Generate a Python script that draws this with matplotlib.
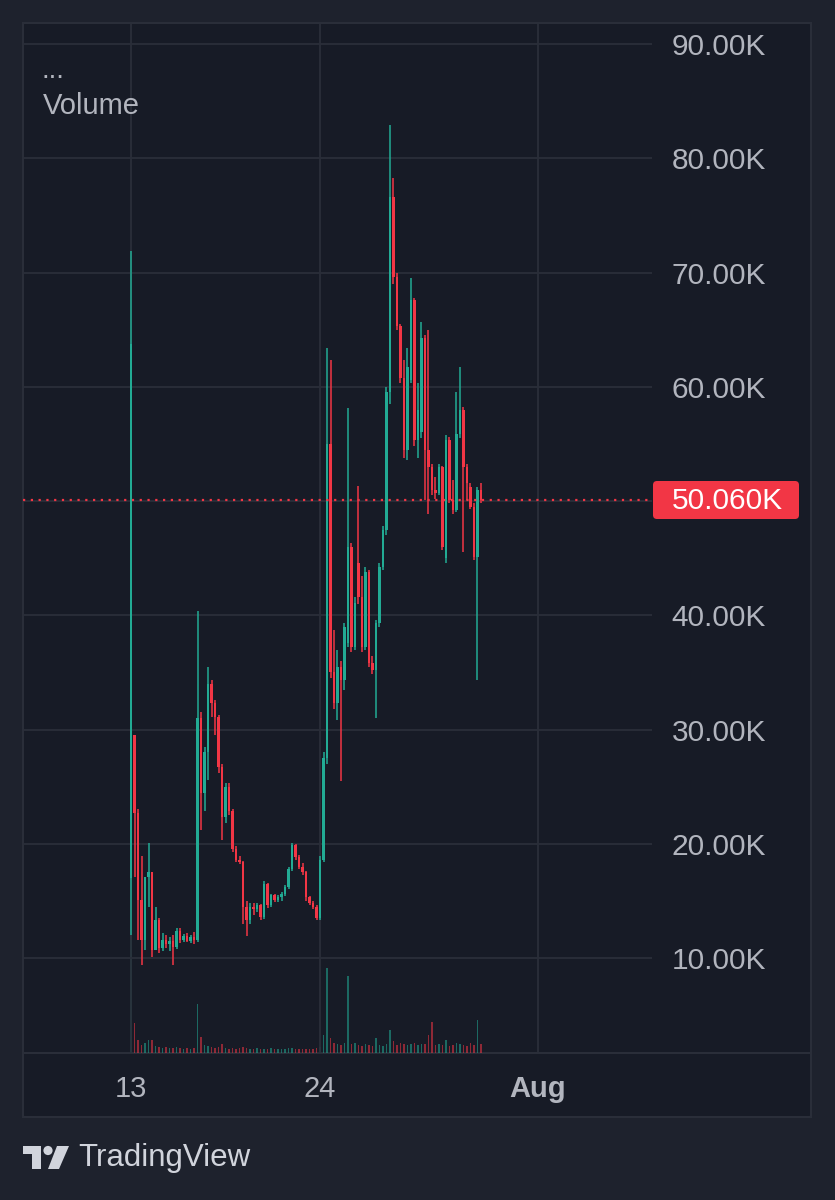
import numpy as np
import matplotlib
matplotlib.use("Agg")
import matplotlib.pyplot as plt
from matplotlib.patches import Rectangle, FancyBboxPatch, Circle, Polygon

# ---------------- data (values in thousands) ----------------
opens = [17.0, 29.5, 22.7, 15.1, 11.6, 17.1, 17.5, 10.7, 13.3, 10.9,
         11.6, 11.2, 11.5, 11.0, 12.4, 11.6, 11.9, 11.5, 11.8, 11.6,
         31.0, 24.4, 28.0, 34.0, 32.3, 31.1, 26.7, 22.3, 25.0, 22.9,
         19.5, 18.6, 18.4, 14.5, 13.3, 14.5, 14.3, 14.6, 13.6, 16.5,
         14.6, 15.5, 15.1, 15.3, 15.6, 16.2, 17.8, 19.9, 18.8, 18.0,
         17.5, 15.3, 14.8, 14.5, 13.5, 18.6, 27.5, 55.0, 35.0, 32.3,
         35.5, 34.3, 37.6, 46.0, 37.2, 44.6, 41.6, 37.2, 43.8, 35.8,
         35.2, 39.3, 44.2, 47.5, 59.5, 76.6, 69.6, 65.3, 60.8, 54.5,
         60.6, 67.6, 55.3, 56.0, 64.3, 54.5, 53.0, 51.0, 50.7, 53.0,
         45.0, 55.3, 50.1, 49.2, 55.9, 58.0, 53.0, 51.2, 49.5, 45.1,
         51.0]
highs = [71.9, 29.5, 23.0, 18.9, 17.1, 20.1, 17.5, 14.5, 13.5, 12.2,
         12.0, 11.8, 12.0, 12.6, 12.6, 12.1, 12.2, 12.0, 12.3, 40.4,
         31.5, 28.5, 35.5, 34.3, 32.6, 31.3, 27.0, 25.3, 25.3, 23.0,
         19.8, 18.9, 18.5, 15.0, 14.8, 14.8, 14.8, 14.7, 16.7, 16.6,
         15.6, 15.6, 15.5, 15.8, 16.4, 18.0, 20.1, 20.0, 19.0, 18.3,
         17.6, 15.4, 15.0, 14.6, 18.9, 28.0, 63.4, 62.3, 38.7, 37.0,
         36.0, 39.3, 58.1, 46.3, 41.6, 51.3, 43.4, 44.2, 44.0, 36.4,
         39.6, 44.6, 47.8, 60.0, 82.9, 78.3, 70.0, 65.5, 62.3, 63.4,
         69.5, 67.8, 60.3, 65.7, 64.5, 65.0, 53.2, 52.1, 53.2, 53.1,
         55.8, 55.6, 51.8, 59.5, 61.7, 58.2, 53.2, 51.6, 49.8, 51.2,
         51.6]
lows = [12.0, 17.1, 11.6, 9.4, 10.7, 14.5, 10.1, 10.7, 10.4, 10.6,
        10.9, 10.6, 9.4, 10.8, 11.3, 11.4, 11.4, 11.3, 11.2, 11.4,
        21.2, 22.9, 25.6, 31.1, 29.5, 26.2, 20.3, 21.8, 22.5, 19.3,
        18.4, 18.2, 13.0, 11.9, 13.0, 13.8, 14.0, 13.3, 13.4, 14.4,
        14.5, 14.9, 14.9, 15.0, 15.4, 16.0, 17.6, 18.6, 17.8, 17.3,
        15.0, 14.6, 14.3, 13.3, 13.3, 18.4, 27.0, 34.5, 31.8, 30.8,
        25.5, 33.5, 37.2, 36.8, 37.0, 41.0, 36.8, 37.0, 35.5, 34.9,
        31.0, 39.0, 44.0, 47.0, 58.5, 69.0, 65.0, 60.3, 53.8, 53.6,
        60.3, 54.8, 53.8, 55.5, 50.1, 48.9, 50.5, 50.2, 50.5, 45.7,
        44.6, 49.8, 48.9, 49.0, 55.5, 45.5, 50.1, 49.3, 44.8, 34.3,
        49.8]
closes = [63.7, 22.7, 15.1, 11.6, 17.1, 17.5, 10.7, 13.3, 10.9, 11.6,
          11.2, 11.5, 11.0, 12.4, 11.6, 11.9, 11.5, 11.8, 11.6, 31.0,
          24.4, 28.0, 34.0, 32.3, 31.1, 26.7, 22.3, 25.0, 22.9, 19.5,
          18.6, 18.4, 14.5, 13.3, 14.5, 14.3, 14.6, 13.6, 16.5, 14.6,
          15.5, 15.1, 15.3, 15.6, 16.2, 17.8, 19.9, 18.8, 18.0, 17.5,
          15.3, 14.8, 14.5, 13.5, 18.6, 27.5, 55.0, 35.0, 32.3, 35.5,
          34.3, 39.0, 46.0, 37.2, 41.1, 41.6, 37.2, 43.8, 35.8, 35.2,
          39.3, 44.2, 47.5, 59.5, 76.6, 69.6, 65.3, 60.8, 54.5, 61.7,
          67.6, 55.3, 58.0, 64.3, 54.5, 53.0, 51.0, 50.7, 53.0, 46.0,
          55.3, 50.1, 49.2, 55.9, 58.0, 53.0, 51.6, 49.5, 45.1, 51.0,
          50.06]
volumes = [18.0, 3.0, 1.3, 0.8, 1.0, 1.3, 1.3, 0.7, 0.6, 0.5,
           0.6, 0.5, 0.5, 0.6, 0.5, 0.4, 0.5, 0.4, 0.5, 4.9,
           1.6, 0.8, 0.7, 0.6, 0.5, 0.6, 0.9, 0.5, 0.4, 0.5,
           0.4, 0.5, 0.6, 0.5, 0.4, 0.4, 0.5, 0.4, 0.4, 0.4,
           0.5, 0.4, 0.4, 0.4, 0.4, 0.5, 0.5, 0.4, 0.4, 0.4,
           0.4, 0.4, 0.4, 0.5, 0.6, 1.8, 8.5, 1.5, 1.0, 0.9,
           0.8, 1.0, 7.7, 0.9, 1.0, 0.8, 0.7, 0.9, 0.8, 0.7,
           1.5, 0.8, 0.7, 0.9, 2.3, 1.2, 0.8, 1.0, 0.9, 0.8,
           0.9, 1.0, 0.8, 0.9, 0.9, 1.8, 3.1, 0.8, 0.9, 0.8,
           1.3, 0.7, 0.8, 1.0, 0.9, 0.8, 0.7, 1.0, 0.8, 3.3,
           0.9]
price_ticks = [10, 20, 30, 40, 50, 60, 70, 80, 90]
price_labels = ["10.00K", "20.00K", "30.00K", "40.00K", "50.00K",
                "60.00K", "70.00K", "80.00K", "90.00K"]
time_tick_bars = [0, 54, 116.3]
time_labels = ["13", "24", "Aug"]
last_label = "50.060K"
indicator_name = "Volume"
brand = "TradingView"

# ---------------- style ----------------
OUTER = "#1e222d"
INNER = "#171b26"
BORDER = "#2a2e39"
GRID = "#2a2e39"
TXT = "#b2b5be"
UP = "#22ab94"
DOWN = "#f23645"
FONT = "Liberation Sans"

W, H = 835, 1200
fig = plt.figure(figsize=(W / 100, H / 100), dpi=100, facecolor=OUTER)

bg = fig.add_axes([0, 0, 1, 1], zorder=0)
bg.set_xlim(0, W)
bg.set_ylim(H, 0)
bg.axis("off")
bg.add_patch(Rectangle((23, 23), 788, 1094, facecolor=INNER, edgecolor=BORDER, lw=1.5))
bg.plot([23, 811], [1053, 1053], color=BORDER, lw=1.5)

# plot area
L, R, T, B = 23, 652, 23, 1053
rect = [L / W, 1 - B / H, (R - L) / W, (B - T) / H]
vol = fig.add_axes(rect, zorder=1)
ax = fig.add_axes(rect, zorder=2, sharex=vol)
for a in (ax, vol):
    a.patch.set_visible(False)
    for s in a.spines.values():
        s.set_visible(False)

x = np.arange(len(closes))
o = np.array(opens); c = np.array(closes)
hi = np.array(highs); lo = np.array(lows)
up = c >= o
cols = np.where(up, UP, DOWN)

# volume
vcols = [(0.13, 0.67, 0.58, 0.55) if u else (0.95, 0.21, 0.27, 0.55) for u in up]
vol.bar(x, volumes, width=0.5, color=vcols, linewidth=0)
vol.set_ylim(0, 103)
vol.set_yticks([])
vol.tick_params(axis="x", length=0, labelbottom=False)

# candles
ax.vlines(x, lo, hi, colors=cols, lw=1.1)
body_h = np.maximum(np.abs(c - o), 0.15)
ax.bar(x, body_h, bottom=np.minimum(o, c), width=0.7, color=cols, linewidth=0)

ax.set_xlim(-30.86, 148.86)
ax.set_ylim(1.685, 91.84)

ax.yaxis.tick_right()
ax.set_yticks(price_ticks)
# the 50.00K label is covered by the last-price tag in the reference
ax.set_yticklabels([("" if t == 50 else lab) for t, lab in zip(price_ticks, price_labels)],
                   fontsize=21.5, color=TXT, family=FONT)
ax.tick_params(axis="y", length=0, pad=14)
ax.set_xticks(time_tick_bars)
ax.set_xticklabels(time_labels, fontsize=21, color=TXT, family=FONT)
for lbl in ax.get_xticklabels():
    if lbl.get_text() == "Aug":
        lbl.set_fontweight("bold")
ax.tick_params(axis="x", length=0, pad=16)
ax.grid(True, color=GRID, lw=1.3)
ax.set_axisbelow(True)

# last price dotted line
ax.axhline(closes[-1], color=DOWN, lw=1.6, linestyle=(0, (1, 2.5)))

# overlay layer (texts, tag, logo)
top = fig.add_axes([0, 0, 1, 1], zorder=5)
top.set_xlim(0, W)
top.set_ylim(H, 0)
top.axis("off")
top.patch.set_visible(False)

top.add_patch(FancyBboxPatch((653, 481), 146, 38, boxstyle="round,pad=0,rounding_size=4",
                             facecolor=DOWN, edgecolor="none"))
top.text(727, 501, last_label, color="white", fontsize=21.5, family=FONT,
         ha="center", va="center")

top.text(42, 78, "...", color=TXT, fontsize=20, family=FONT, ha="left", va="baseline")
top.text(43, 106, indicator_name, color=TXT, fontsize=21, family=FONT, ha="left", va="center")

LOGO = "#d1d4dc"
top.add_patch(Rectangle((23, 1146), 18, 7.5, facecolor=LOGO, edgecolor="none"))
top.add_patch(Rectangle((31.5, 1146), 9.5, 23, facecolor=LOGO, edgecolor="none"))
top.add_patch(Circle((48, 1150.5), 4.6, facecolor=LOGO, edgecolor="none"))
top.add_patch(Polygon([(57, 1146), (69, 1146), (59, 1169), (48, 1169)], closed=True,
                      facecolor=LOGO, edgecolor="none"))
top.text(78, 1158, brand, color=LOGO, fontsize=22.5, family=FONT, ha="left", va="center")

fig.savefig("out.png", dpi=100, facecolor=OUTER)
